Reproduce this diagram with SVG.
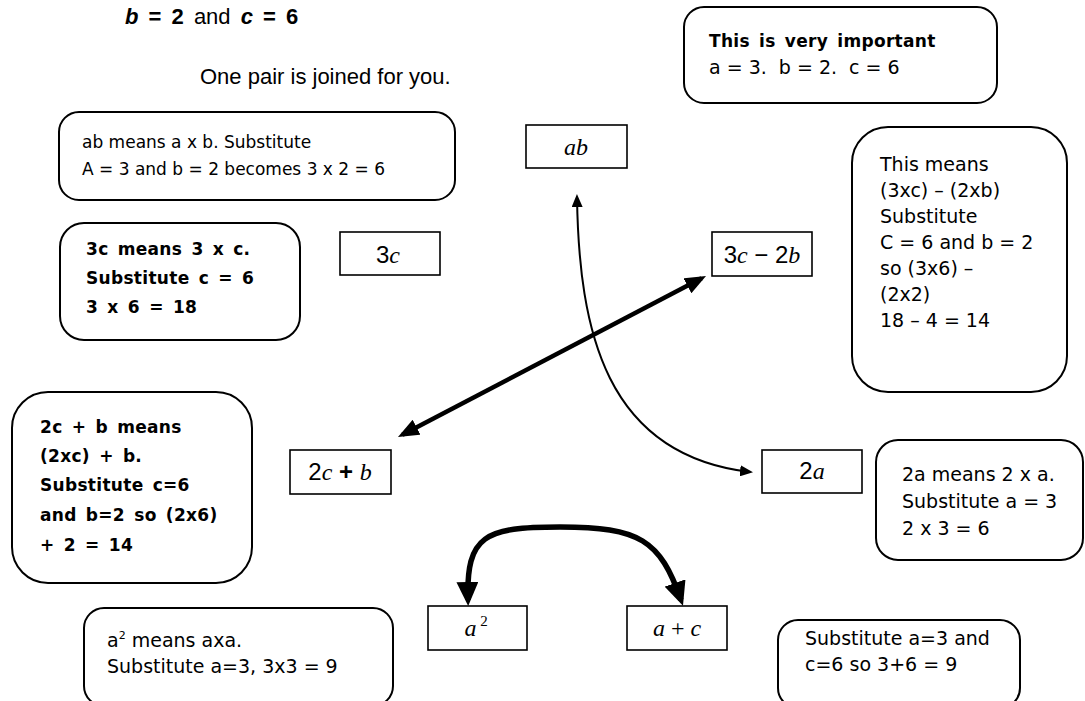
<svg xmlns="http://www.w3.org/2000/svg" width="1085" height="701" viewBox="0 0 1085 701">
<style>
.box{fill:#fff;stroke:#000;stroke-width:2}
.rect{fill:#fff;stroke:#000;stroke-width:1.6}
.t{font-family:"DejaVu Sans",sans-serif;font-size:19px;fill:#000}
.ts{font-family:"DejaVu Sans",sans-serif;font-size:17px;fill:#000}
.tb{font-family:"DejaVu Sans",sans-serif;font-size:17px;font-weight:bold;letter-spacing:0.3px;word-spacing:3px;fill:#000}
.m{font-family:"Liberation Sans",sans-serif;font-size:24px;fill:#000;text-anchor:middle}
.v{font-family:"Liberation Serif",serif;font-style:italic}
.s{font-family:"Liberation Serif",serif}
.h{font-family:"Liberation Sans",Arial,sans-serif;font-size:22px;fill:#000}
.thin{fill:none;stroke:#000;stroke-width:2}
.thick{fill:none;stroke:#000;stroke-width:4.5}
.thicker{fill:none;stroke:#000;stroke-width:5.5}
</style>
<defs>
<marker id="ah" markerUnits="userSpaceOnUse" markerWidth="13" markerHeight="11" refX="10" refY="5.5" orient="auto-start-reverse"><path d="M0,0 L13,5.5 L0,11 z" fill="#000"/></marker>
<marker id="ahb" markerUnits="userSpaceOnUse" markerWidth="21" markerHeight="17" refX="16" refY="8.5" orient="auto-start-reverse"><path d="M0,0 L21,8.5 L0,17 z" fill="#000"/></marker>
<marker id="ahc" markerUnits="userSpaceOnUse" markerWidth="24" markerHeight="22" refX="18" refY="11" orient="auto-start-reverse"><path d="M0,0 L24,11 L0,22 z" fill="#000"/></marker>
</defs>
<rect width="1085" height="701" fill="#fff"/>

<g id="title">
<text class="h" x="125" y="24" font-weight="bold" word-spacing="4"><tspan font-style="italic">b</tspan> = 2 <tspan font-weight="normal">and</tspan> <tspan font-style="italic">c</tspan> = 6</text>
<text class="h" x="200" y="84">One pair is joined for you.</text>
</g>

<g id="important">
<rect class="box" x="684" y="7" width="313" height="96" rx="20"/>
<text class="tb" x="709" y="47">This is very important</text>
<text class="t" x="709" y="74" xml:space="preserve">a = 3.  b = 2.  c = 6</text>
</g>

<g id="ab-note">
<rect class="box" x="59" y="112" width="396" height="88" rx="20"/>
<text class="ts" x="82" y="148">ab means a x b. Substitute</text>
<text class="ts" x="82" y="175">A = 3 and b = 2 becomes 3 x 2 = 6</text>
</g>

<g id="ab">
<rect class="rect" x="526" y="125" width="101" height="43"/>
<text class="m" x="576" y="155"><tspan class="v">ab</tspan></text>
</g>

<g id="c3-note">
<rect class="box" x="60" y="223" width="240" height="117" rx="24"/>
<text class="tb" x="86" y="255">3c means 3 x c.</text>
<text class="tb" x="86" y="284">Substitute c = 6</text>
<text class="tb" x="86" y="313">3 x 6 = 18</text>
</g>

<g id="c3">
<rect class="rect" x="340" y="232" width="100" height="43"/>
<text class="m" x="388" y="263">3<tspan class="v">c</tspan></text>
</g>

<g id="c3b2">
<rect class="rect" x="712" y="232" width="100" height="44"/>
<text class="m" x="762" y="263">3<tspan class="v">c</tspan> − 2<tspan class="v">b</tspan></text>
</g>

<g id="c3b2-note">
<rect class="box" x="852" y="127" width="215" height="265" rx="36"/>
<text class="t" x="880" y="171">This means</text>
<text class="t" x="880" y="197">(3xc) – (2xb)</text>
<text class="t" x="880" y="223">Substitute</text>
<text class="t" x="880" y="249">C = 6 and b = 2</text>
<text class="t" x="880" y="275">so (3x6) –</text>
<text class="t" x="880" y="301">(2x2)</text>
<text class="t" x="880" y="327">18 – 4 = 14</text>
</g>

<g id="c2b-note">
<rect class="box" x="12" y="392" width="240" height="191" rx="36"/>
<text class="tb" x="40" y="433">2c + b means</text>
<text class="tb" x="40" y="462">(2xc) + b.</text>
<text class="tb" x="40" y="491">Substitute c=6</text>
<text class="tb" x="40" y="521">and b=2 so (2x6)</text>
<text class="tb" x="40" y="551">+ 2 = 14</text>
</g>

<g id="c2b">
<rect class="rect" x="290" y="450" width="101" height="44"/>
<text class="m" x="340" y="480">2<tspan class="v">c</tspan> <tspan font-weight="bold">+</tspan> <tspan class="v">b</tspan></text>
</g>

<g id="a2x">
<rect class="rect" x="762" y="450" width="100" height="43"/>
<text class="m" x="812" y="479">2<tspan class="v">a</tspan></text>
</g>

<g id="a2x-note">
<rect class="box" x="876" y="440" width="207" height="120" rx="22"/>
<text class="t" x="902" y="481">2a means 2 x a.</text>
<text class="t" x="902" y="508">Substitute a = 3</text>
<text class="t" x="902" y="535">2 x 3 = 6</text>
</g>

<g id="asq-note">
<rect class="box" x="84" y="608" width="309" height="98" rx="20"/>
<text class="t" x="107" y="647">a<tspan font-size="11" dy="-8">2</tspan><tspan dy="8"> means axa.</tspan></text>
<text class="t" x="107" y="673">Substitute a=3, 3x3 = 9</text>
</g>

<g id="asq">
<rect class="rect" x="428" y="606" width="99" height="44"/>
<text class="m" x="476" y="636"><tspan class="v">a</tspan><tspan class="s" font-size="15" dy="-10"> 2</tspan></text>
</g>

<g id="apc">
<rect class="rect" x="627" y="606" width="100" height="44"/>
<text class="m" x="677" y="636"><tspan class="v">a</tspan><tspan class="s"> + </tspan><tspan class="v">c</tspan></text>
</g>

<g id="apc-note">
<rect class="box" x="778" y="620" width="242" height="88" rx="20"/>
<text class="t" x="805" y="645">Substitute a=3 and</text>
<text class="t" x="805" y="671">c=6 so 3+6 = 9</text>
</g>

<g id="connectors">
<path class="thin" d="M 577 197 C 579 330, 605 455, 750 472" marker-start="url(#ah)" marker-end="url(#ah)"/>
<path class="thick" d="M 402.4 434.7 L 701.6 278.3" marker-start="url(#ahb)" marker-end="url(#ahb)"/>
<path class="thicker" d="M 468 600 C 466 535, 485 527, 560 527 C 640 527, 660 540, 681 600" marker-start="url(#ahc)" marker-end="url(#ahc)"/>
</g>
</svg>
